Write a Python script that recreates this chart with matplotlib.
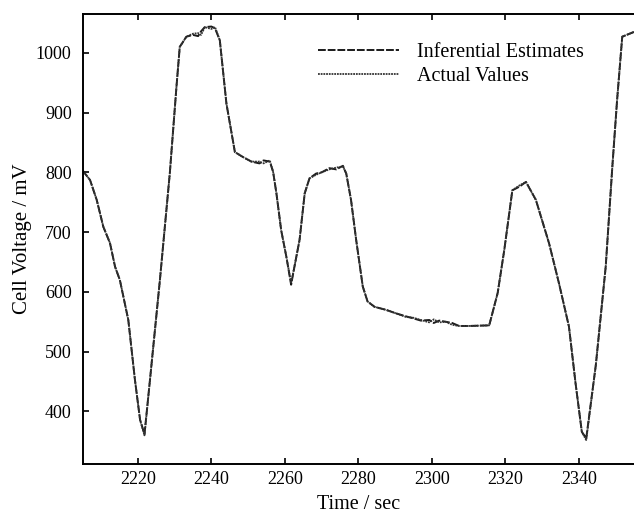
import matplotlib
matplotlib.use("Agg")
import matplotlib.pyplot as plt

plt.rcParams["font.family"] = ["Liberation Serif", "DejaVu Serif"]

# time (sec) and cell voltage (mV)
time = [2205.0, 2207.0, 2208.8, 2210.6, 2212.4, 2213.8, 2215.1, 2217.4, 2219.2,
        2220.6, 2221.8, 2223.3, 2226.0, 2228.7, 2230.5, 2231.4, 2233.2, 2235.0,
        2236.4, 2237.2, 2238.2, 2240.0, 2241.0, 2242.3, 2244.1, 2246.4, 2248.5,
        2250.9, 2253.1, 2254.2, 2255.9, 2256.8, 2257.7, 2259.0, 2260.4, 2261.7,
        2262.6, 2264.0, 2265.4, 2266.7, 2268.5, 2270.0, 2272.1, 2274.0, 2275.8,
        2276.7, 2278.0, 2279.4, 2281.2, 2282.5, 2284.4, 2287.5, 2290.3, 2293.0,
        2294.8, 2297.0, 2299.3, 2300.5, 2302.0, 2303.8, 2305.5, 2307.4, 2310.2,
        2315.6, 2317.9, 2319.7, 2321.9, 2323.8, 2325.6, 2328.3, 2331.9, 2334.6,
        2337.3, 2339.1, 2340.8, 2342.0, 2344.6, 2347.3, 2349.1, 2350.4, 2351.8,
        2355.0]
estimates = [803, 787, 754, 709, 682, 642, 620, 553, 453,
             386, 362, 453, 620, 799, 943, 1010, 1027, 1030,
             1028, 1036, 1043, 1044, 1041, 1021, 915, 834, 826,
             818, 815, 820, 818, 801, 765, 703, 659, 612,
             642, 687, 765, 790, 798, 800, 807, 805, 811,
             798, 754, 687, 609, 584, 575, 570, 564, 559,
             556, 552, 553, 548, 552, 550, 548, 543, 543,
             544, 598, 670, 770, 776, 784, 754, 681, 614,
             542, 447, 366, 355, 477, 642, 809, 921, 1027,
             1035]
actual = [803, 787, 754, 709, 682, 642, 620, 553, 453,
          386, 360, 453, 620, 799, 943, 1010, 1027, 1032,
          1033, 1030, 1043, 1040, 1043, 1021, 915, 834, 826,
          818, 818, 815, 820, 801, 765, 703, 659, 615,
          642, 687, 765, 790, 796, 800, 805, 808, 810,
          798, 754, 687, 609, 584, 575, 570, 564, 558,
          557, 553, 549, 554, 549, 550, 545, 543, 543,
          544, 598, 670, 770, 778, 784, 754, 681, 614,
          542, 447, 366, 352, 477, 642, 809, 921, 1027,
          1035]

xticks = [2220, 2240, 2260, 2280, 2300, 2320, 2340]
yticks = [400, 500, 600, 700, 800, 900, 1000]

fig = plt.figure(figsize=(6.34, 5.18), dpi=100, facecolor="white")
ax = fig.add_axes([0.1305, 0.1042, 0.8695, 0.8688])

ax.plot(time, estimates, color="#1a1a1a", linewidth=1.4,
        linestyle=(0, (4, 1)), label="Inferential Estimates")
ax.plot(time, actual, color="#333333", linewidth=1.3,
        linestyle=(0, (1, 0.5)), label="Actual Values")

ax.set_xlim(2205, 2355)
ax.set_ylim(312, 1065)
ax.set_xticks(xticks)
ax.set_yticks(yticks)
ax.tick_params(direction="in", length=4, width=1.2, labelsize=13,
               top=True, right=False)
ax.tick_params(axis="x", pad=5)
ax.tick_params(axis="y", pad=8)
for side in ["left", "bottom", "top"]:
    ax.spines[side].set_linewidth(1.4)
ax.spines["right"].set_visible(False)

ax.set_xlabel("Time / sec", fontsize=14.5, labelpad=5)
ax.set_ylabel("Cell Voltage / mV", fontsize=15, labelpad=3)

ax.legend(loc="upper left", bbox_to_anchor=(0.5016, 0.918),
          bbox_transform=fig.transFigure, frameon=False, fontsize=14.5,
          handlelength=4.0, handletextpad=0.9, labelspacing=0.25,
          borderpad=0, borderaxespad=0)

fig.savefig("out.png", dpi=100, facecolor="white")
